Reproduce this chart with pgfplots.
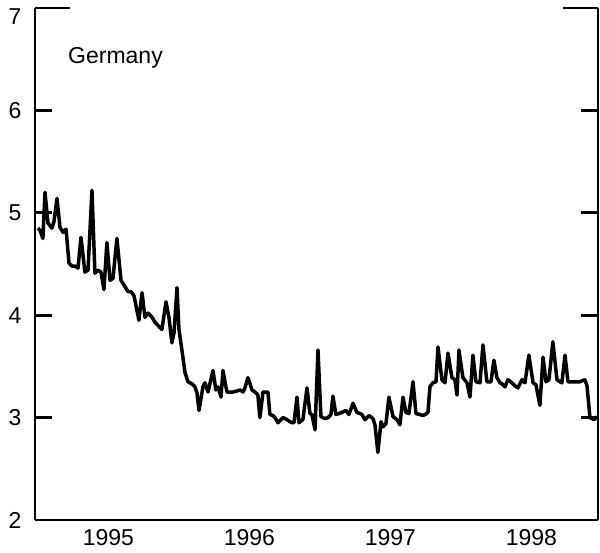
\documentclass[border=0pt]{standalone}
\usepackage{pgfplots}
\pgfplotsset{compat=1.18}
\usepackage{fontspec}
\setmainfont{Liberation Sans}
\begin{document}
\begin{tikzpicture}[x=1pt,y=1pt]
\useasboundingbox (0,0) rectangle (600,552);
\begin{axis}[
  at={(35pt,32pt)}, anchor=south west,
  scale only axis, width=563pt, height=512pt,
  xmin=1994.979, xmax=1998.972, ymin=2, ymax=7,
  axis x line*=bottom,
  axis line style={line width=2.8pt},
  every tick/.style={black, line width=2.8pt},
  xtick={1995.5,1996.5,1997.5,1998.5},
  xticklabels={1995,1996,1997,1998},
  x tick style={draw=none},
  extra x ticks={1996,1997,1998},
  extra x tick labels={},
  extra x tick style={major tick length=18pt, tick style={draw=black, line width=2.8pt}},
  ytick={2,3,4,5,6},
  extra y ticks={7},
  extra y tick style={major tick length=35pt, yticklabel style={yshift=-9pt}},
  major tick length=17pt,
  tick align=inside,
  /pgf/number format/assume math mode=true,
  ticklabel style={font=\fontsize{23}{27}\selectfont},
  yticklabel style={xshift=-10pt},
  xticklabel style={yshift=-6pt},
  clip=false,
]
\addplot[black, line width=3.5pt, line join=round] table {
x y
1995.000 4.85
1995.014 4.83
1995.035 4.75
1995.050 5.20
1995.071 4.90
1995.099 4.85
1995.113 4.91
1995.135 5.14
1995.156 4.86
1995.177 4.81
1995.199 4.84
1995.220 4.51
1995.241 4.48
1995.262 4.48
1995.284 4.46
1995.305 4.76
1995.333 4.42
1995.355 4.44
1995.383 5.22
1995.404 4.41
1995.426 4.44
1995.447 4.42
1995.468 4.25
1995.489 4.71
1995.511 4.34
1995.532 4.36
1995.560 4.75
1995.589 4.34
1995.617 4.28
1995.638 4.23
1995.660 4.23
1995.681 4.19
1995.716 3.95
1995.738 4.22
1995.759 3.98
1995.780 4.02
1995.809 3.98
1995.830 3.93
1995.858 3.89
1995.879 3.86
1995.908 4.13
1995.929 3.98
1995.950 3.73
1995.965 3.83
1995.986 4.27
1996.000 3.86
1996.021 3.66
1996.043 3.44
1996.064 3.35
1996.092 3.33
1996.113 3.30
1996.128 3.24
1996.142 3.07
1996.170 3.30
1996.184 3.34
1996.206 3.25
1996.241 3.46
1996.262 3.27
1996.277 3.30
1996.298 3.20
1996.312 3.46
1996.340 3.25
1996.362 3.25
1996.383 3.25
1996.411 3.26
1996.433 3.27
1996.454 3.25
1996.468 3.29
1996.489 3.39
1996.518 3.27
1996.539 3.25
1996.560 3.22
1996.574 3.00
1996.596 3.25
1996.617 3.25
1996.631 3.25
1996.645 3.03
1996.667 3.02
1996.681 3.00
1996.702 2.95
1996.723 2.98
1996.738 3.00
1996.766 2.98
1996.787 2.96
1996.801 2.95
1996.816 2.95
1996.837 3.20
1996.851 2.95
1996.879 2.98
1996.908 3.29
1996.929 3.04
1996.943 3.03
1996.965 2.88
1996.986 3.66
1997.007 3.01
1997.035 2.99
1997.057 3.00
1997.078 3.03
1997.092 3.21
1997.113 3.03
1997.135 3.04
1997.156 3.05
1997.184 3.07
1997.206 3.03
1997.234 3.14
1997.262 3.05
1997.284 3.04
1997.298 3.03
1997.319 2.98
1997.348 3.02
1997.376 2.99
1997.390 2.93
1997.411 2.66
1997.433 2.96
1997.447 2.91
1997.468 2.94
1997.489 3.20
1997.518 3.01
1997.546 2.98
1997.567 2.93
1997.589 3.20
1997.610 3.05
1997.631 3.04
1997.660 3.35
1997.681 3.04
1997.709 3.03
1997.730 3.02
1997.745 3.03
1997.766 3.05
1997.780 3.30
1997.801 3.34
1997.823 3.35
1997.837 3.69
1997.865 3.37
1997.887 3.34
1997.908 3.63
1997.936 3.39
1997.957 3.37
1997.972 3.22
1997.986 3.66
1998.014 3.39
1998.043 3.34
1998.064 3.20
1998.085 3.61
1998.106 3.35
1998.135 3.34
1998.156 3.71
1998.184 3.35
1998.213 3.35
1998.234 3.56
1998.255 3.39
1998.277 3.34
1998.291 3.33
1998.312 3.30
1998.333 3.37
1998.362 3.34
1998.383 3.31
1998.404 3.29
1998.433 3.37
1998.454 3.34
1998.482 3.61
1998.511 3.34
1998.532 3.32
1998.560 3.12
1998.582 3.59
1998.603 3.35
1998.624 3.37
1998.652 3.74
1998.681 3.37
1998.702 3.35
1998.716 3.34
1998.738 3.61
1998.759 3.35
1998.794 3.35
1998.823 3.35
1998.844 3.35
1998.879 3.37
1998.894 3.31
1998.915 3.00
1998.943 2.98
1998.965 3.01
};
\node[anchor=west, font=\fontsize{23}{27}\selectfont, inner sep=0pt] at (axis cs:1995.213,6.51) {Germany};
\end{axis}
\end{tikzpicture}
\end{document}
